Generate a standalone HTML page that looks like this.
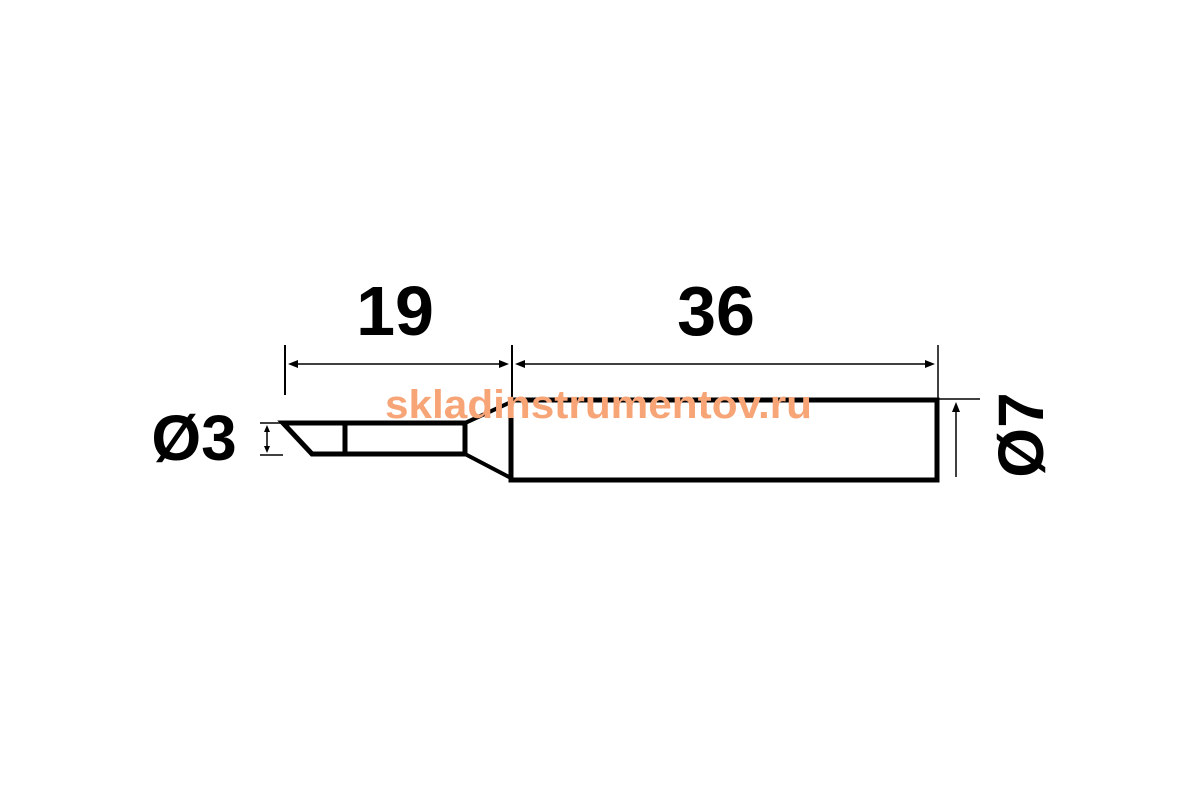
<!DOCTYPE html>
<html><head><meta charset="utf-8"><style>html,body{margin:0;padding:0;background:#fff}svg{display:block}</style></head>
<body>
<svg width="1200" height="800" viewBox="0 0 1200 800" xmlns="http://www.w3.org/2000/svg">
<rect width="1200" height="800" fill="#fff"/>
<g fill="none" stroke="#000" stroke-linejoin="miter">
  <path d="M283 423 L465 423 L465 454 L312 454 Z" stroke-width="5"/>
  <line x1="345" y1="423" x2="345" y2="454" stroke-width="5"/>
  <path d="M465 423 L511 402 M465 454 L511 478" stroke-width="4"/>
  <rect x="511" y="400" width="426" height="80" stroke-width="5"/>
  <line x1="285" y1="345" x2="285" y2="395" stroke-width="2"/>
  <line x1="512" y1="345" x2="512" y2="400" stroke-width="2"/>
  <line x1="938" y1="345" x2="938" y2="400" stroke-width="1.5"/>
  <line x1="938" y1="399" x2="980" y2="399" stroke-width="1.5"/>
  <line x1="292" y1="364" x2="505" y2="364" stroke-width="1.5"/>
  <line x1="518" y1="364" x2="932" y2="364" stroke-width="1.5"/>
  <line x1="956" y1="406" x2="956" y2="477" stroke-width="1.5"/>
  <line x1="260" y1="423" x2="283" y2="423" stroke-width="1.5"/>
  <line x1="260" y1="455" x2="283" y2="455" stroke-width="1.5"/>
  <line x1="267" y1="427" x2="267" y2="451" stroke-width="1.5"/>
</g>
<g fill="#000">
  <path d="M288 364 L298 360 L298 368 Z"/>
  <path d="M509 364 L499 360 L499 368 Z"/>
  <path d="M515 364 L525 360 L525 368 Z"/>
  <path d="M935 364 L925 360 L925 368 Z"/>
  <path d="M956 402 L952 412 L960 412 Z"/>
  <path d="M267 425 L264 432 L270 432 Z"/>
  <path d="M267 453 L264 446 L270 446 Z"/>
</g>
<g font-family="Liberation Sans, sans-serif" font-weight="bold" fill="#000" font-size="70">
  <text x="395" y="335" text-anchor="middle">19</text>
  <text x="716" y="335" text-anchor="middle">36</text>
  <text x="194" y="460" text-anchor="middle" font-size="64">Ø3</text>
  <text transform="translate(1043,435) rotate(-90)" text-anchor="middle" font-size="64">Ø7</text>
</g>
<text x="385" y="418" font-family="Liberation Sans, sans-serif" font-weight="bold" font-size="40" fill="#f7a476" textLength="427" lengthAdjust="spacingAndGlyphs">skladinstrumentov.ru</text>
</svg>
</body></html>
